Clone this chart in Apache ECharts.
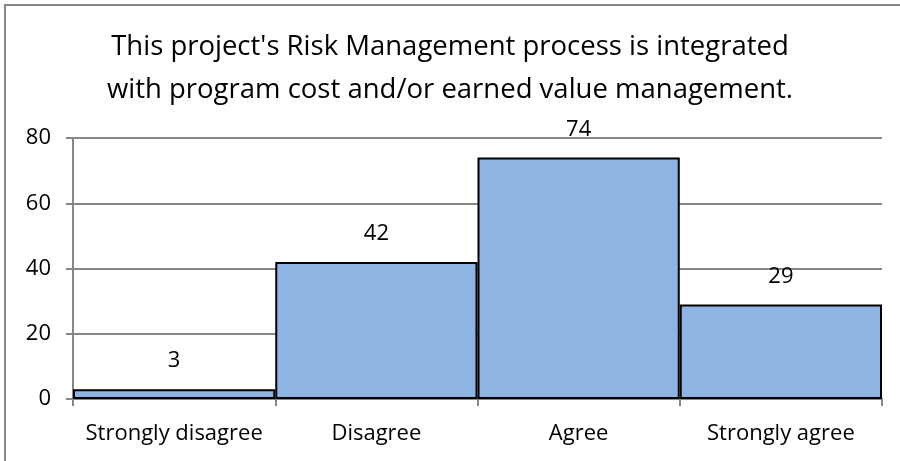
<!DOCTYPE html>
<html>
<head>
<meta charset="utf-8">
<script src="https://cdn.jsdelivr.net/npm/echarts@6/dist/echarts.min.js"></script>
<style>
    html, body { margin: 0; padding: 0; background: #fff; }
    #chart { width: 900px; height: 461px; }
</style>
</head>
<body>
<div id="chart"></div>
<script>
const title_lines = [
    "This project's Risk Management process is integrated",
    "with program cost and/or earned value management.",
];
const categories = ["Strongly disagree", "Disagree", "Agree", "Strongly agree"];
const counts = [3, 42, 74, 29];

const font = "'Open Sans', sans-serif";

const chart = echarts.init(document.getElementById("chart"));

const config = {
    animation: false,
    textStyle: { fontFamily: font },
    graphic: [
        {
            type: "rect",
            shape: { x: 5, y: 5, width: 920, height: 480 },
            style: { fill: "none", stroke: "#868686", lineWidth: 2 },
            silent: true,
        },
    ],
    title: {
        text: title_lines.join("\n"),
        left: "center",
        top: 21,
        textStyle: {
            fontFamily: font,
            fontSize: 27.5,
            fontWeight: "normal",
            color: "#000",
            lineHeight: 43,
        },
    },
    grid: {
        left: 73,
        right: 18,
        top: 138,
        bottom: 62,
    },
    xAxis: {
        type: "category",
        data: categories,
        axisLine: { lineStyle: { color: "#868686", width: 2 } },
        axisTick: { show: true, length: 7, lineStyle: { color: "#868686", width: 2 } },
        axisLabel: { color: "#000", fontSize: 22, margin: 24, interval: 0, fontFamily: font },
        splitLine: { show: false },
    },
    yAxis: {
        type: "value",
        min: 0,
        max: 80,
        interval: 20,
        axisLine: { show: true, lineStyle: { color: "#868686", width: 2 } },
        axisTick: { show: true, length: 7, lineStyle: { color: "#868686", width: 2 } },
        axisLabel: { color: "#000", fontSize: 22, margin: 22, fontFamily: font },
        splitLine: { show: true, lineStyle: { color: "#868686", width: 2 } },
    },
    series: [
        {
            type: "bar",
            data: counts,
            barCategoryGap: 0,
            itemStyle: {
                color: "#8EB4E3",
                borderColor: "#000",
                borderWidth: 2,
            },
            label: {
                show: true,
                position: "top",
                distance: 17,
                color: "#000",
                fontSize: 22,
                fontFamily: font,
            },
        },
    ],
};

chart.setOption(config);
</script>
</body>
</html>
